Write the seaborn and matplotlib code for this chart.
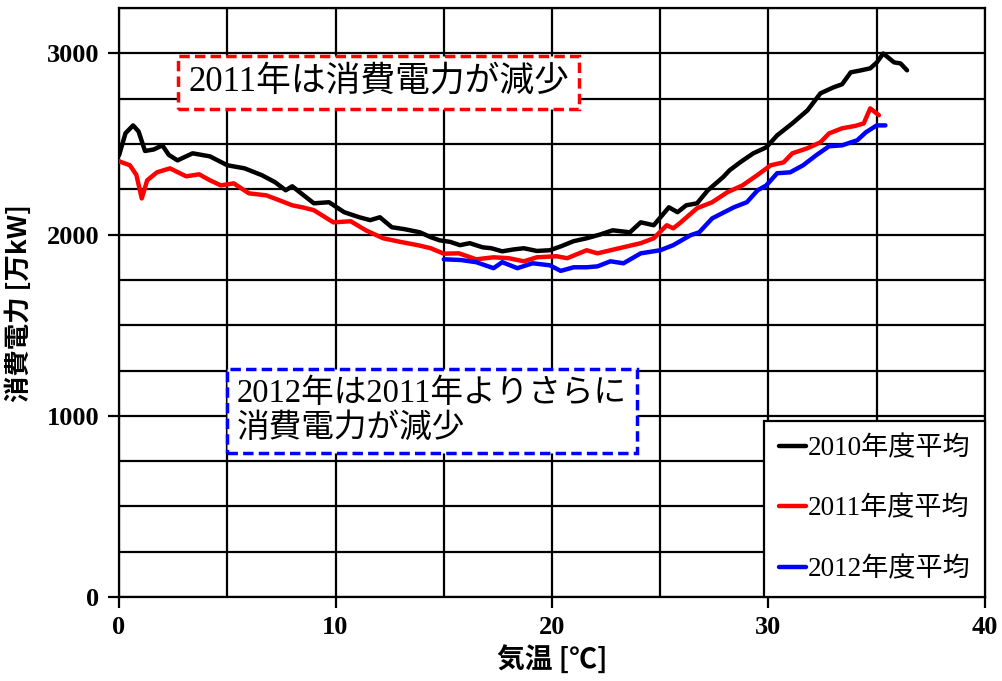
import matplotlib
matplotlib.use("Agg")
import matplotlib.pyplot as plt
import seaborn as sns
import pandas as pd
from matplotlib.ticker import MultipleLocator

# ---- data ----
t2010 = [0, 0.3, 0.65, 0.9, 1.2, 1.6, 2.0, 2.3, 2.7, 3.4, 4.2, 5.0, 5.8, 6.6, 7.2, 7.7, 8.0, 8.5,
         9.0, 9.7, 10.4, 11.1, 11.6, 12.05, 12.6, 13.2, 13.9, 14.4, 14.8, 15.3, 15.75, 16.2, 16.8,
         17.2, 17.7, 18.2, 18.7, 19.3, 19.9, 20.4, 21.0, 21.6, 22.2, 22.8, 23.6, 24.1, 24.7, 25.4,
         25.8, 26.2, 26.7, 27.2, 27.9, 28.2, 28.7, 29.3, 29.9, 30.4, 31.1, 31.8, 32.4, 33.0, 33.4,
         33.8, 34.2, 34.7, 35.0, 35.3, 35.8, 36.1, 36.4]
p2010 = [2438, 2560, 2603, 2570, 2462, 2470, 2493, 2440, 2410, 2449, 2432, 2383, 2366, 2328, 2290,
         2245, 2267, 2220, 2173, 2179, 2124, 2096, 2080, 2096, 2041, 2030, 2013, 1986, 1969, 1960,
         1942, 1953, 1930, 1925, 1908, 1918, 1925, 1910, 1914, 1935, 1964, 1980, 2000, 2024, 2013,
         2068, 2052, 2151, 2124, 2162, 2173, 2245, 2317, 2355, 2400, 2449, 2482, 2548, 2614, 2686,
         2780, 2813, 2830, 2896, 2905, 2918, 2950, 3000, 2951, 2945, 2907]

t2011 = [0, 0.5, 0.8, 1.05, 1.3, 1.75, 2.35, 3.1, 3.7, 4.2, 4.7, 5.3, 6.0, 6.8, 7.4, 8.0, 8.5, 9.0,
         9.9, 10.7, 11.4, 12.2, 13.0, 13.8, 14.4, 15.0, 15.7, 16.5, 17.3, 18.0, 18.7, 19.3, 20.2,
         20.7, 21.6, 22.1, 23.1, 24.1, 24.7, 25.3, 25.6, 25.9, 26.7, 27.4, 28.1, 28.8, 29.5, 30.1,
         30.7, 31.1, 31.8, 32.4, 32.8, 33.4, 34.0, 34.4, 34.7, 35.1]
p2011 = [2405, 2383, 2330, 2200, 2300, 2344, 2366, 2322, 2333, 2300, 2272, 2283, 2228, 2217, 2190,
         2162, 2150, 2135, 2068, 2074, 2024, 1980, 1960, 1942, 1925, 1895, 1897, 1864, 1875, 1870,
         1853, 1875, 1881, 1870, 1914, 1897, 1925, 1953, 1980, 2052, 2035, 2063, 2146, 2179, 2234,
         2272, 2330, 2383, 2399, 2449, 2477, 2510, 2559, 2587, 2600, 2614, 2697, 2659]

t2012 = [15.0, 15.8, 16.5, 17.3, 17.7, 18.4, 19.1, 19.9, 20.4, 21.0, 21.6, 22.1, 22.7, 23.3, 24.1,
         25.0, 25.6, 26.4, 26.8, 27.4, 28.4, 29.0, 29.5, 29.9, 30.4, 31.0, 31.6, 32.2, 32.8, 33.4,
         34.1, 34.5, 35.0, 35.4]
p2012 = [1864, 1860, 1848, 1815, 1848, 1815, 1842, 1831, 1800, 1820, 1820, 1825, 1853, 1842, 1897,
         1914, 1942, 1997, 2013, 2090, 2151, 2179, 2245, 2272, 2339, 2344, 2383, 2438, 2488, 2493,
         2521, 2565, 2603, 2603]

series_names = ["2010年度平均", "2011年度平均", "2012年度平均"]
series_colors = ["#000000", "#ff0000", "#0000ff"]
xlabel = "気温 [℃]"
ylabel = "消費電力 [万kW]"
note1 = "2011年は消費電力が減少"
note2 = "2012年は2011年よりさらに\n消費電力が減少"

df = pd.concat([
    pd.DataFrame({"T": t2010, "P": p2010, "s": series_names[0]}),
    pd.DataFrame({"T": t2011, "P": p2011, "s": series_names[1]}),
    pd.DataFrame({"T": t2012, "P": p2012, "s": series_names[2]}),
], ignore_index=True)

sns.set_style("white")
MIX = ["Liberation Serif", "Noto Sans CJK JP", "DejaVu Sans"]
GOTH = ["Noto Sans CJK JP", "Liberation Serif", "DejaVu Sans"]
plt.rcParams["font.family"] = MIX
plt.rcParams["text.color"] = "black"
plt.rcParams["axes.labelcolor"] = "black"
plt.rcParams["xtick.color"] = "black"
plt.rcParams["ytick.color"] = "black"

fig = plt.figure(figsize=(10.02, 6.81), dpi=100)
ax = fig.add_axes([0.1188, 0.1233, 0.983 - 0.1188, 0.988 - 0.1233])

sns.lineplot(data=df, x="T", y="P", hue="s", palette=dict(zip(series_names, series_colors)),
             linewidth=3.2, ax=ax, sort=True, estimator=None, zorder=3)

ax.set_xlim(0, 40)
ax.set_ylim(0, 3250)
ax.xaxis.set_major_locator(MultipleLocator(10))
ax.xaxis.set_minor_locator(MultipleLocator(5))
ax.yaxis.set_major_locator(MultipleLocator(1000))
ax.yaxis.set_minor_locator(MultipleLocator(250))
ax.grid(which="both", color="black", linewidth=1.6)
ax.set_axisbelow(True)
ax.tick_params(which="major", length=8, width=1.6, color="black", labelcolor="black",
               direction="out", bottom=True, left=True, pad=6)
ax.tick_params(which="minor", length=0)
for sp in ax.spines.values():
    sp.set_color("black")
    sp.set_linewidth(1.6)

for lab in ax.get_xticklabels() + ax.get_yticklabels():
    lab.set_fontfamily(["Liberation Serif"])
    lab.set_fontweight("bold")
    lab.set_fontsize(19)
    lab.set_color("black")

ax.set_xlabel(xlabel, fontsize=20, fontweight="bold", family=GOTH, labelpad=4, color="black")
ax.set_ylabel(ylabel, fontsize=19, fontweight="bold", family=GOTH, labelpad=10, color="black")

ax.text(3.19, 2840, note1, fontsize=25, family=MIX, ha="left", va="center", zorder=5,
        color="black",
        bbox=dict(boxstyle="square,pad=0.3", facecolor="white", edgecolor="#ff0000",
                  linestyle=(0, (3, 1.5)), linewidth=2.5))
ax.text(5.45, 1026, note2, fontsize=23.5, family=MIX, ha="left", va="center", zorder=5,
        linespacing=1.15, color="black",
        bbox=dict(boxstyle="square,pad=0.3", facecolor="white", edgecolor="#0000ff",
                  linestyle=(0, (3, 1.5)), linewidth=2.5))

leg = ax.legend(loc="lower right", bbox_to_anchor=(1, 0), borderaxespad=0, frameon=True,
                fancybox=False, framealpha=1, edgecolor="black",
                handlelength=1.0, handletextpad=0.05, labelspacing=1.3, borderpad=0.55,
                prop={"family": MIX, "size": 19.5})
leg.get_frame().set_linewidth(1.6)
leg.set_zorder(6)
for line in leg.get_lines():
    line.set_linewidth(3.2)
for txt in leg.get_texts():
    txt.set_color("black")

fig.savefig("out.png", dpi=100)
